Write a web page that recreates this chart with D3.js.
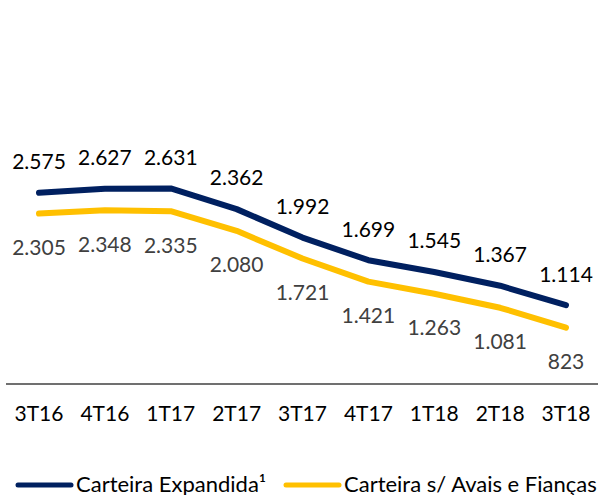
<!DOCTYPE html>
<html>
<head>
<meta charset="utf-8">
<script src="https://cdn.jsdelivr.net/npm/d3@7"></script>
<style>
  body { margin: 0; background: #fff; }
  text { font-family: Lato, "Open Sans", sans-serif; }
</style>
</head>
<body>
<div id="chart"></div>
<script>
var categories = ["3T16", "4T16", "1T17", "2T17", "3T17", "4T17", "1T18", "2T18", "3T18"];
var expandida = [2575, 2627, 2631, 2362, 1992, 1699, 1545, 1367, 1114];
var semAvais = [2305, 2348, 2335, 2080, 1721, 1421, 1263, 1081, 823];
var seriesNames = ["Carteira Expandida\u00b9", "Carteira s/ Avais e Fian\u00e7as"];

var width = 598, height = 495;
var fmt = function(v) { return d3.format(",")(v).replace(/,/g, "."); };

var svg = d3.select("#chart").append("svg")
  .attr("width", width)
  .attr("height", height);

var x = d3.scalePoint().domain(categories).range([39, 566]);
var y = d3.scaleLinear().domain([0, 3000]).range([391, 160]);

// category axis
svg.append("line")
  .attr("x1", 6).attr("x2", width)
  .attr("y1", 384).attr("y2", 384)
  .attr("stroke", "#404040")
  .attr("stroke-width", 1.5);

svg.append("g").selectAll("text")
  .data(categories)
  .enter().append("text")
  .attr("x", function(d) { return x(d); })
  .attr("y", 421)
  .attr("text-anchor", "middle")
  .attr("font-size", 21)
  .attr("fill", "#000")
  .text(function(d) { return d; });

var series = [
  {name: seriesNames[0], values: expandida, color: "#002060", labelColor: "#000", dy: -31},
  {name: seriesNames[1], values: semAvais, color: "#FFC000", labelColor: "#404040", dy: 34}
];

var line = d3.line()
  .x(function(d, i) { return x(categories[i]); })
  .y(function(d) { return y(d); });

series.forEach(function(s) {
  svg.append("path")
    .datum(s.values)
    .attr("d", line)
    .attr("fill", "none")
    .attr("stroke", s.color)
    .attr("stroke-width", 6)
    .attr("stroke-linecap", "round")
    .attr("stroke-linejoin", "round");

  svg.append("g").selectAll("text")
    .data(s.values)
    .enter().append("text")
    .attr("x", function(d, i) { return x(categories[i]); })
    .attr("y", function(d) { return y(d) + s.dy; })
    .attr("dy", "0.35em")
    .attr("text-anchor", "middle")
    .attr("font-size", 21)
    .attr("fill", s.labelColor)
    .text(function(d) { return fmt(d); });
});

// legend
var legendX = [16, 284];
var legend = svg.append("g").selectAll("g")
  .data(series)
  .enter().append("g")
  .attr("transform", function(d, i) { return "translate(" + legendX[i] + ",485)"; });

legend.append("line")
  .attr("x1", 2).attr("x2", 55)
  .attr("stroke", function(d) { return d.color; })
  .attr("stroke-width", 5)
  .attr("stroke-linecap", "round");

legend.append("text")
  .attr("x", 60)
  .attr("y", 7)
  .attr("font-size", 22)
  .attr("fill", "#000")
  .text(function(d) { return d.name; });
</script>
</body>
</html>
